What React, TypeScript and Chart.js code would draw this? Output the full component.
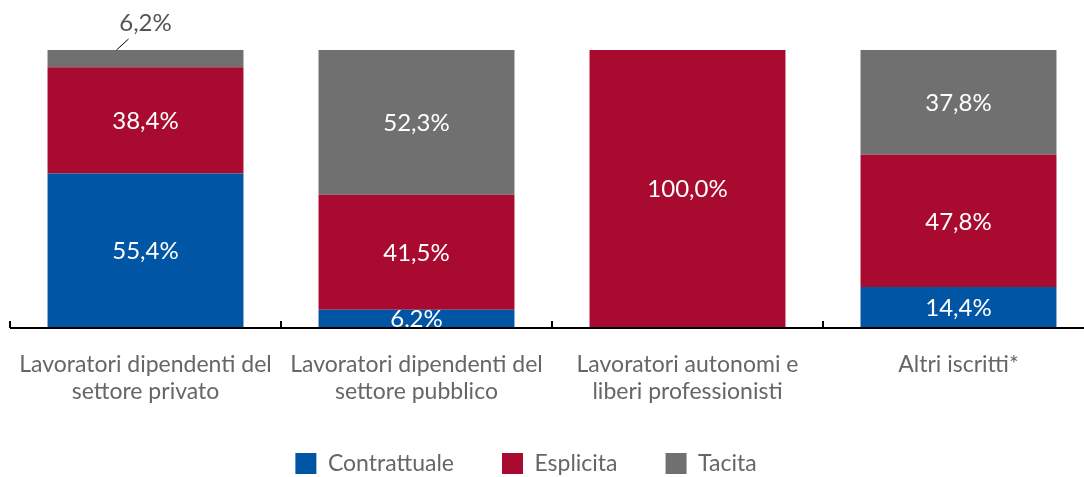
import React, { useEffect, useRef } from "react";
import { Chart, registerables } from "chart.js";

Chart.register(...registerables);

const categories: string[][] = [
  ["Lavoratori dipendenti del", "settore privato"],
  ["Lavoratori dipendenti del", "settore pubblico"],
  ["Lavoratori autonomi e", "liberi professionisti"],
  ["Altri iscritti*"],
];

const seriesNames = ["Contrattuale", "Esplicita", "Tacita"];
const contrattuale = [55.4, 6.2, 0, 14.4];
const esplicita = [38.4, 41.5, 100.0, 47.8];
const tacita = [6.2, 52.3, 0, 37.8];

const colors = ["#0055A5", "#A80B2F", "#707070"];
const FONT = "Lato, 'Open Sans', sans-serif";

const fmt = (v: number) => v.toFixed(1).replace(".", ",") + "%";

const labelPlugin = {
  id: "segLabels",
  afterDatasetsDraw(chart: any) {
    const ctx = chart.ctx;
    const nDs = chart.data.datasets.length;
    ctx.save();
    chart.data.datasets.forEach((ds: any, di: number) => {
      const meta = chart.getDatasetMeta(di);
      meta.data.forEach((el: any, i: number) => {
        const v = ds.data[i];
        if (!v) return;
        const top = Math.min(el.y, el.base);
        const h = Math.abs(el.base - el.y);
        ctx.textAlign = "center";
        ctx.textBaseline = "middle";
        ctx.font = `24px ${FONT}`;
        if (h < 25 && di === nDs - 1) {
          ctx.fillStyle = "#555555";
          ctx.fillText(fmt(v), el.x, top - 27);
          ctx.strokeStyle = "#000000";
          ctx.lineWidth = 1;
          ctx.beginPath();
          ctx.moveTo(el.x - 29, top);
          ctx.lineTo(el.x - 17, top - 11);
          ctx.stroke();
        } else {
          ctx.fillStyle = "#ffffff";
          ctx.fillText(fmt(v), el.x, top + h / 2 + 1);
        }
      });
    });
    ctx.restore();
  },
};

const axisPlugin = {
  id: "axisLine",
  afterLayout(chart: any) {
    if (chart.legend) {
      chart.legend.left -= 26;
      chart.legend.right -= 26;
    }
  },
  afterDatasetsDraw(chart: any) {
    const ctx = chart.ctx;
    const area = chart.chartArea;
    const xs = chart.scales.x;
    const y = area.bottom + 1;
    ctx.save();
    ctx.strokeStyle = "#000000";
    ctx.lineWidth = 2;
    ctx.beginPath();
    ctx.moveTo(area.left, y);
    ctx.lineTo(area.right, y);
    for (let i = 0; i <= categories.length; i++) {
      const px = Math.round(xs.getPixelForValue(i - 0.5));
      ctx.moveTo(px, y);
      ctx.lineTo(px, y - 7);
    }
    ctx.stroke();
    ctx.restore();
  },
};

export default function App() {
  const ref = useRef<HTMLCanvasElement | null>(null);
  useEffect(() => {
    if (!ref.current) return;
    const chart = new Chart(ref.current, {
      type: "bar",
      data: {
        labels: categories,
        datasets: [contrattuale, esplicita, tacita].map((d, i) => ({
          label: seriesNames[i],
          data: d,
          backgroundColor: colors[i],
          borderWidth: 0,
          barPercentage: 1,
          categoryPercentage: 0.723,
        })),
      },
      options: {
        responsive: false,
        animation: false,
        layout: { padding: { top: 50, left: 10, right: 6, bottom: 5 } },
        scales: {
          x: {
            stacked: true,
            grid: { display: false, drawTicks: false },
            border: { display: false },
            afterFit: (scale: any) => {
              scale.height = 77;
              scale.paddingLeft = 0;
              scale.paddingRight = 0;
            },
            ticks: {
              color: "#666666",
              padding: 24,
              font: { family: FONT, size: 23, lineHeight: "27px" as any },
            },
          },
          y: { stacked: true, display: false, min: 0, max: 100 },
        },
        plugins: {
          legend: {
            position: "bottom",
            labels: {
              boxWidth: 21,
              boxHeight: 21,
              padding: 48,
              color: "#666666",
              font: { family: FONT, size: 23 },
            },
          },
          tooltip: { enabled: false },
        },
      },
      plugins: [labelPlugin, axisPlugin],
    });
    return () => chart.destroy();
  }, []);
  return (
    <div style={{ position: "absolute", left: 0, top: 0, width: 1084, height: 477, overflow: "hidden", background: "#fff" }}>
      <canvas ref={ref} width={1100} height={490} />
    </div>
  );
}
